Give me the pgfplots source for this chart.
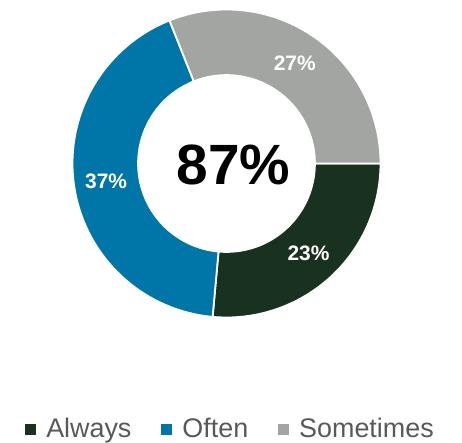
\documentclass[border=0pt]{standalone}
\usepackage{pgfplots}
\pgfplotsset{compat=1.18}
\usepackage{pgfplotstable}
\usepackage{fontspec}
\setmainfont{Liberation Sans}
\definecolor{cAlways}{HTML}{19311F}
\definecolor{cOften}{HTML}{0076A8}
\definecolor{cSome}{HTML}{A2A5A2}
\definecolor{legtext}{HTML}{595959}

\pgfplotstableread{
label value
Always 23
Often 37
Sometimes 27
}\donut
\pgfplotstablegetelem{0}{value}\of\donut \edef\vA{\pgfplotsretval}%
\pgfplotstablegetelem{1}{value}\of\donut \edef\vB{\pgfplotsretval}%
\pgfplotstablegetelem{2}{value}\of\donut \edef\vC{\pgfplotsretval}%
\pgfmathsetmacro\tot{\vA+\vB+\vC}%
\pgfmathtruncatemacro\totI{\vA+\vB+\vC}%
\pgfmathsetmacro\eA{-360*\vA/\tot}%
\pgfmathsetmacro\eB{\eA-360*\vB/\tot}%
\pgfmathsetmacro\eC{\eB-360*\vC/\tot}%
\pgfmathsetmacro\mA{\eA/2}%
\pgfmathsetmacro\mB{(\eA+\eB)/2}%
\pgfmathsetmacro\mC{(\eB+\eC)/2}%
\def\Ri{0.58}%
\def\Rl{0.79}%

\begin{document}
\begin{tikzpicture}
\begin{axis}[
  at={(0,0)}, anchor=center,
  scale only axis, width=308bp, height=308bp,
  xmin=-1, xmax=1, ymin=-1, ymax=1,
  hide axis, clip=false,
  legend columns=-1,
  legend image code/.code={\fill[#1,draw=none] (0bp,-6.5bp) rectangle (11bp,4.5bp);},
  legend style={at={(0.513,-0.359)}, anchor=center, draw=none, fill=none,
    font=\fontsize{27}{31}\selectfont, text=legtext,
    /tikz/every even column/.append style={column sep=28bp},
    /tikz/every odd column/.append style={column sep=8bp}},
]
\addplot[fill=cAlways, draw=white, line width=1.8bp, domain=\eA:0, samples=80, variable=\t]
  ({cos(\t)},{sin(\t)}) -- (axis cs:0,0) -- cycle;
\addlegendentry{Always}
\addplot[fill=cOften, draw=white, line width=1.8bp, domain=\eB:\eA, samples=100, variable=\t]
  ({cos(\t)},{sin(\t)}) -- (axis cs:0,0) -- cycle;
\addlegendentry{Often}
\addplot[fill=cSome, draw=white, line width=1.8bp, domain=\eC:\eB, samples=80, variable=\t]
  ({cos(\t)},{sin(\t)}) -- (axis cs:0,0) -- cycle;
\addlegendentry{Sometimes}
\addplot[fill=white, draw=none, domain=0:360, samples=145, variable=\t, forget plot]
  ({\Ri*cos(\t)},{\Ri*sin(\t)}) -- cycle;
\node[text=white, font=\bfseries\fontsize{21}{21}\selectfont] at (axis cs:{\Rl*cos(\mA)},{\Rl*sin(\mA)}) {\vA\%};
\node[text=white, font=\bfseries\fontsize{21}{21}\selectfont] at (axis cs:{\Rl*cos(\mB)},{\Rl*sin(\mB)}) {\vB\%};
\node[text=white, font=\bfseries\fontsize{21}{21}\selectfont] at (axis cs:{\Rl*cos(\mC)},{\Rl*sin(\mC)}) {\vC\%};
\node[text=black, font=\bfseries\fontsize{57}{57}\selectfont] at (axis cs:0.045,-0.01) {\totI\%};
\end{axis}
\pgfresetboundingbox
\path[use as bounding box] (-226.5bp,-279.5bp) rectangle (235.5bp,163.5bp);
\end{tikzpicture}
\end{document}
